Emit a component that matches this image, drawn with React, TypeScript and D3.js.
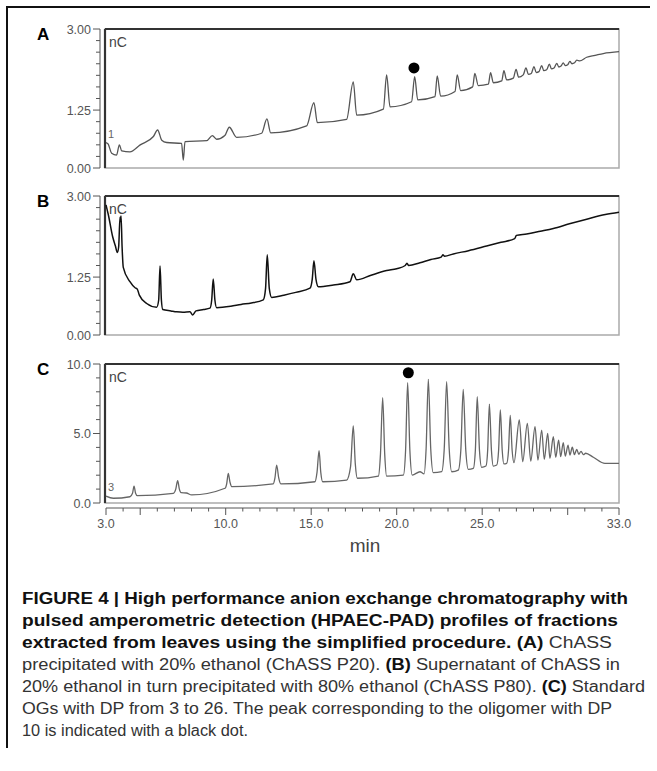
import React from 'react';
import * as d3 from 'd3';

// ---------- data (time in min, signal in nC) ----------
const traceA: [number, number][] = [
  [3.0, 0.55], [3.12, 0.52], [3.33, 0.32], [3.62, 0.28], [3.78, 0.5], [3.92, 0.37], [4.4, 0.35],
  [5.0, 0.5], [5.77, 0.68], [6.02, 0.82], [6.26, 0.6], [6.55, 0.55], [7.42, 0.53], [7.52, 0.17],
  [7.62, 0.57], [8.89, 0.59], [9.22, 0.7], [9.47, 0.62], [9.95, 0.7], [10.21, 0.88], [10.64, 0.66],
  [12.1, 0.75], [12.41, 1.06], [12.63, 0.76], [14.73, 0.91], [15.16, 1.41], [15.36, 0.98],
  [17.07, 1.05], [17.46, 1.86], [17.66, 1.14], [19.22, 1.27], [19.41, 2.01], [19.61, 1.32],
  [20.87, 1.43], [21.05, 1.97], [21.23, 1.47], [22.24, 1.54], [22.37, 1.99], [22.57, 1.55],
  [23.41, 1.65], [23.54, 2.01], [23.74, 1.67], [24.44, 1.75], [24.57, 2.04], [24.77, 1.78],
  [25.36, 1.81], [25.49, 2.06], [25.65, 1.84], [26.14, 1.88], [26.27, 2.1], [26.43, 1.9],
  [26.82, 1.94], [26.98, 2.13], [27.13, 1.96], [27.4, 2.01], [27.56, 2.16], [27.7, 2.02],
  [27.87, 2.04], [28.03, 2.19], [28.16, 2.06], [28.32, 2.08], [28.48, 2.21], [28.6, 2.1],
  [28.77, 2.12], [28.93, 2.24], [29.05, 2.14], [29.2, 2.16], [29.36, 2.26], [29.48, 2.18],
  [29.61, 2.2], [29.74, 2.27], [29.86, 2.21], [30.0, 2.23], [30.13, 2.3], [30.25, 2.25],
  [30.4, 2.27], [30.53, 2.33], [30.7, 2.31], [31.11, 2.39], [31.6, 2.43], [32.08, 2.47], [33.0, 2.51],
];

const traceB: [number, number][] = [
  [3.0, 2.81], [3.14, 2.59], [3.39, 2.12], [3.55, 1.92], [3.66, 1.78], [3.74, 1.9], [3.82, 2.54],
  [3.85, 2.45], [3.88, 2.57], [3.94, 1.91], [4.01, 1.46], [4.4, 1.15], [4.7, 1.02], [4.83, 0.99],
  [4.95, 0.86], [5.38, 0.68], [5.96, 0.6], [6.08, 0.75], [6.16, 1.49], [6.24, 0.75], [6.32, 0.55],
  [6.8, 0.52], [7.13, 0.5], [7.5, 0.49], [7.91, 0.5], [8.07, 0.43], [8.26, 0.52], [8.7, 0.55],
  [9.08, 0.58], [9.18, 0.75], [9.27, 1.21], [9.37, 0.75], [9.47, 0.59], [10.3, 0.62], [10.9, 0.66],
  [11.5, 0.69], [12.2, 0.76], [12.33, 1.0], [12.43, 1.73], [12.55, 1.0], [12.69, 0.81],
  [13.4, 0.86], [14.1, 0.92], [14.93, 1.01], [15.06, 1.2], [15.16, 1.6], [15.28, 1.2], [15.42, 1.04],
  [16.3, 1.08], [17.27, 1.15], [17.46, 1.32], [17.66, 1.19], [18.5, 1.29], [19.41, 1.39],
  [20.0, 1.43], [20.5, 1.5], [20.6, 1.55], [20.7, 1.5], [21.36, 1.56], [22.0, 1.63],
  [22.6, 1.68], [22.7, 1.73], [22.8, 1.7], [23.31, 1.75], [24.2, 1.82], [25.26, 1.92],
  [26.1, 2.0], [26.9, 2.08], [27.0, 2.15], [27.6, 2.18], [28.4, 2.24], [29.16, 2.3],
  [30.1, 2.4], [31.11, 2.5], [32.2, 2.6], [33.0, 2.65],
];

const traceC: [number, number][] = [
  [3.0, 0.5], [3.43, 0.34], [4.4, 0.45], [4.55, 0.7], [4.64, 1.22], [4.73, 0.7], [4.83, 0.53],
  [6.94, 0.7], [7.08, 1.0], [7.19, 1.61], [7.29, 1.0], [7.39, 0.74], [7.7, 0.72], [8.01, 0.58],
  [9.96, 1.06], [10.06, 1.4], [10.15, 2.13], [10.25, 1.5], [10.35, 1.18], [12.78, 1.37],
  [12.88, 1.8], [12.98, 2.73], [13.1, 1.8], [13.22, 1.37], [15.22, 1.53], [15.34, 2.2],
  [15.46, 3.76], [15.56, 2.2], [15.67, 1.53], [17.07, 1.65], [17.3, 2.6], [17.46, 5.54],
  [17.58, 2.8], [17.7, 1.78], [18.93, 1.94], [19.05, 3.5], [19.18, 7.58], [19.3, 3.5],
  [19.41, 1.94], [20.39, 2.01], [20.52, 3.8], [20.64, 8.65], [20.77, 3.8], [20.91, 2.01],
  [21.36, 2.25], [21.6, 2.09], [21.72, 3.9], [21.85, 8.9], [21.99, 3.9], [22.14, 2.18],
  [22.63, 2.25], [22.78, 3.9], [22.92, 8.73], [23.07, 3.9], [23.22, 2.25], [23.6, 2.37],
  [23.75, 3.8], [23.89, 8.18], [24.04, 3.8], [24.19, 2.42], [24.48, 2.49], [24.6, 3.8],
  [24.71, 7.65], [24.84, 3.8], [24.97, 2.57], [25.22, 2.66], [25.32, 3.8], [25.42, 7.12],
  [25.54, 3.8], [25.65, 2.66], [25.85, 2.73], [25.96, 3.8], [26.06, 6.69], [26.17, 3.8],
  [26.27, 2.81], [26.43, 2.85], [26.54, 3.8], [26.64, 6.31], [26.75, 3.8], [26.86, 2.9],
  [27.17, 5.97], [27.37, 2.97], [27.64, 5.73], [27.84, 3.02], [28.09, 5.49], [28.26, 3.09],
  [28.48, 5.25], [28.63, 3.14], [28.83, 5.01], [28.96, 3.21], [29.16, 4.77], [29.3, 3.29],
  [29.47, 4.53], [29.59, 3.33], [29.74, 4.34], [29.86, 3.38], [30.02, 4.17], [30.13, 3.45],
  [30.27, 4.01], [30.39, 3.48], [30.53, 3.86], [30.65, 3.5], [30.78, 3.72], [30.92, 3.48],
  [31.05, 3.58], [31.5, 3.29], [32.18, 2.85], [33.0, 2.85],
];

const dotA: [number, number] = [21.01, 2.16];
const dotC: [number, number] = [20.68, 9.37];

const xMajorTicks = [3, 5, 10, 15, 20, 25, 30, 33];
const xMinorTicks = [4, 6, 7, 8, 9, 11, 12, 13, 14, 16, 17, 18, 19, 21, 22, 23, 24, 26, 27, 28, 29, 31, 32];
const xLabels = [3, 10, 15, 20, 25, 33];

const yMajorAB = [0, 1.25, 3];
const yMinorAB = [0.25, 0.5, 0.75, 1.0, 1.5, 1.75, 2.0, 2.25, 2.5, 2.75];
const yMajorC = [0, 5, 10];
const yMinorC = [1, 2, 3, 4, 6, 7, 8, 9];

const captionLines: { text: string; bold: boolean }[][] = [
  [{ text: 'FIGURE 4 | High performance anion exchange chromatography with', bold: true }],
  [{ text: 'pulsed amperometric detection (HPAEC-PAD) profiles of fractions', bold: true }],
  [{ text: 'extracted from leaves using the simplified procedure. (A)', bold: true }, { text: ' ChASS', bold: false }],
  [{ text: 'precipitated with 20% ethanol (ChASS P20). ', bold: false }, { text: '(B)', bold: true }, { text: ' Supernatant of ChASS in', bold: false }],
  [{ text: '20% ethanol in turn precipitated with 80% ethanol (ChASS P80). ', bold: false }, { text: '(C)', bold: true }, { text: ' Standard', bold: false }],
  [{ text: 'OGs with DP from 3 to 26. The peak corresponding to the oligomer with DP', bold: false }],
  [{ text: '10 is indicated with a black dot.', bold: false }],
];
const captionWidths = [606, 596, 590, 598, 623, 590, 226];

// ---------- layout ----------
const W = 657;
const H = 771;
const X0 = 106;
const X1 = 619;
const PH = 139;
const FONT = 'Arial, "Liberation Sans", Helvetica, sans-serif';

const x = d3.scaleLinear().domain([3, 33]).range([X0, X1]);

type PanelProps = {
  top: number;
  letter: string;
  data: [number, number][];
  yMax: number;
  majors: number[];
  minors: number[];
  fmt: (v: number) => string;
  color: string;
  sw: number;
  dot?: [number, number];
  startLabel?: string;
};

function Panel({ top, letter, data, yMax, majors, minors, fmt, color, sw, dot, startLabel }: PanelProps) {
  const y = d3.scaleLinear().domain([0, yMax]).range([top + PH, top]);
  const line = d3
    .line<[number, number]>()
    .x((d) => x(d[0]))
    .y((d) => y(d[1]))
    .curve(d3.curveMonotoneX);
  const axisX = 100;
  return (
    <g>
      <text x={37} y={top + 11} fontFamily={FONT} fontWeight="bold" fontSize={17} fill="#000">
        {letter}
      </text>
      {/* y axis */}
      <line x1={axisX} x2={axisX} y1={y(0)} y2={y(yMax)} stroke="#555" strokeWidth={1} />
      {majors.map((v) => (
        <g key={'M' + v}>
          <line x1={axisX - 7} x2={axisX} y1={y(v)} y2={y(v)} stroke="#555" strokeWidth={1} />
          <text
            x={axisX - 9}
            y={y(v) + 4.5}
            textAnchor="end"
            fontFamily={FONT}
            fontSize={12.5}
            fill="#555"
          >
            {fmt(v)}
          </text>
        </g>
      ))}
      {minors.map((v) => (
        <line key={'m' + v} x1={axisX - 4} x2={axisX} y1={y(v)} y2={y(v)} stroke="#555" strokeWidth={1} />
      ))}
      {/* frame */}
      <rect x={X0 - 1} y={top} width={X1 - X0 + 1} height={PH} fill="none" stroke="#aaa" strokeWidth={1.5} />
      <line x1={X0 - 1} x2={X1} y1={top} y2={top} stroke="#333" strokeWidth={2.2} />
      <line x1={X0 - 1} x2={X0 - 1} y1={top} y2={top + PH} stroke="#333" strokeWidth={2.2} />
      <text x={X0 + 3} y={top + 18} fontFamily={FONT} fontSize={14} fill="#444">
        nC
      </text>
      {startLabel && (
        <text x={X0 + 2} y={y(data[0][1]) - 5} fontFamily={FONT} fontSize={11} fill="#666">
          {startLabel}
        </text>
      )}
      <path d={line(data) || ''} fill="none" stroke={color} strokeWidth={sw} strokeLinejoin="round" />
      {dot && <circle cx={x(dot[0])} cy={y(dot[1])} r={5.5} fill="#000" />}
    </g>
  );
}

export default function App() {
  const axisY = 508;
  return (
    <svg
      width={W}
      height={H}
      viewBox={`0 0 ${W} ${H}`}
      style={{ position: 'absolute', left: 0, top: 0, background: '#fff' }}
    >
      <rect x={0} y={0} width={W} height={H} fill="#fff" />
      {/* figure border */}
      <line x1={7} x2={650} y1={7} y2={7} stroke="#111" strokeWidth={2} />
      <line x1={7} x2={7} y1={6} y2={748} stroke="#111" strokeWidth={2} />

      <Panel
        top={29}
        letter="A"
        data={traceA}
        yMax={3}
        majors={yMajorAB}
        minors={yMinorAB}
        fmt={(v) => v.toFixed(2)}
        color="#555"
        sw={1.3}
        dot={dotA}
        startLabel="1"
      />
      <Panel
        top={196}
        letter="B"
        data={traceB}
        yMax={3}
        majors={yMajorAB}
        minors={yMinorAB}
        fmt={(v) => v.toFixed(2)}
        color="#111"
        sw={1.5}
      />
      <Panel
        top={364}
        letter="C"
        data={traceC}
        yMax={10}
        majors={yMajorC}
        minors={yMinorC}
        fmt={(v) => v.toFixed(1)}
        color="#666"
        sw={1.3}
        dot={dotC}
        startLabel="3"
      />

      {/* x axis */}
      <line x1={x(3)} x2={x(33)} y1={axisY} y2={axisY} stroke="#555" strokeWidth={1} />
      {xMajorTicks.map((t) => (
        <line key={'xM' + t} x1={x(t)} x2={x(t)} y1={axisY} y2={axisY + 7} stroke="#555" strokeWidth={1} />
      ))}
      {xMinorTicks.map((t) => (
        <line key={'xm' + t} x1={x(t)} x2={x(t)} y1={axisY} y2={axisY + 3.5} stroke="#555" strokeWidth={1} />
      ))}
      {xLabels.map((t) => (
        <text
          key={'xl' + t}
          x={x(t)}
          y={528}
          textAnchor="middle"
          fontFamily={FONT}
          fontSize={12.5}
          fill="#555"
        >
          {t.toFixed(1)}
        </text>
      ))}
      <text x={365} y={552} textAnchor="middle" fontFamily={FONT} fontSize={19} fill="#444">
        min
      </text>

      {/* caption */}
      {captionLines.map((segs, i) => (
        <text
          key={'c' + i}
          x={22}
          y={604 + i * 22}
          fontFamily={FONT}
          fontSize={16}
          textLength={captionWidths[i]}
          lengthAdjust="spacingAndGlyphs"
        >
          {segs.map((s, j) => (
            <tspan key={j} fontWeight={s.bold ? 'bold' : 'normal'} fill={s.bold ? '#111' : '#333'}>
              {s.text}
            </tspan>
          ))}
        </text>
      ))}
    </svg>
  );
}
